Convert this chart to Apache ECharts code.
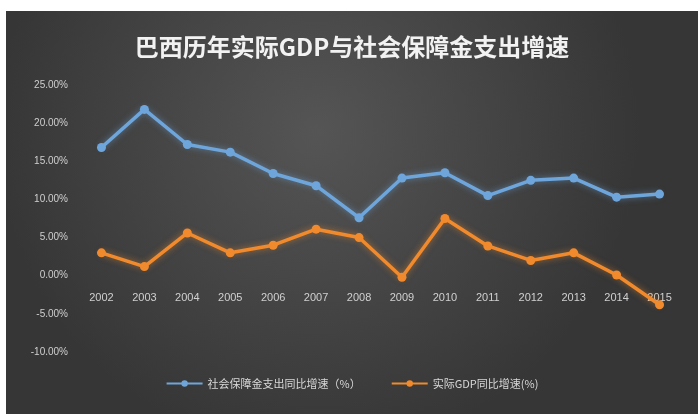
<!DOCTYPE html>
<html><head><meta charset="utf-8">
<script src="https://cdn.jsdelivr.net/npm/echarts@6/dist/echarts.min.js"></script>
<style>
html,body{margin:0;padding:0;background:#fff;width:698px;height:414px;overflow:hidden}
#c{position:absolute;left:6px;top:11px;width:692px;height:403px}
</style></head><body>
<div id="c"></div>
<script>
const years = ['2002','2003','2004','2005','2006','2007','2008','2009','2010','2011','2012','2013','2014','2015'];
const socialSecurity = [16.8, 21.8, 17.2, 16.2, 13.4, 11.8, 7.6, 12.8, 13.5, 10.5, 12.5, 12.8, 10.3, 10.7];
const realGDP = [3.0, 1.2, 5.6, 3.0, 4.0, 6.1, 5.0, -0.2, 7.5, 3.9, 2.0, 3.0, 0.1, -3.8];
const seriesNames = ['社会保障金支出同比增速（%）', '实际GDP同比增速(%)'];
const titleText = '巴西历年实际GDP与社会保障金支出增速';

const chart = echarts.init(document.getElementById('c'));
const blue = '#6ea6dc', orange = '#f08a2c';
chart.setOption({
  backgroundColor: {
    type: 'radial', x: 0.45, y: 0.3, r: 0.8,
    colorStops: [{offset: 0, color: '#555555'}, {offset: 1, color: '#363636'}]
  },
  title: {
    text: titleText, left: 'center', top: 19,
    textStyle: {color: '#f2f2f2', fontSize: 24, fontWeight: 'bold', fontFamily: 'Noto Sans CJK SC'}
  },
  legend: {
    bottom: 20, left: 'center', itemGap: 30, itemWidth: 36, itemHeight: 8,
    textStyle: {color: '#d8d8d8', fontSize: 11, fontFamily: 'Noto Sans CJK SC'},
    data: seriesNames
  },
  grid: {left: 74, right: 17, top: 74, bottom: 62},
  xAxis: {
    type: 'category', data: years, boundaryGap: true,
    offset: -76,
    axisLine: {show: false, onZero: false},
    axisTick: {show: false},
    axisLabel: {color: '#d0d0d0', fontSize: 11, margin: 16, fontFamily: 'Liberation Sans'}
  },
  yAxis: {
    type: 'value', min: -10, max: 25, interval: 5,
    splitLine: {show: false},
    axisLine: {show: false}, axisTick: {show: false},
    axisLabel: {color: '#cfcfcf', fontSize: 10, margin: 12, fontFamily: 'Liberation Sans',
      formatter: v => v.toFixed(2) + '%'}
  },
  series: [
    {name: seriesNames[0], type: 'line', data: socialSecurity, symbol: 'circle', symbolSize: 9,
     itemStyle: {color: blue}, lineStyle: {width: 3.5, color: blue, shadowBlur: 6, shadowColor: 'rgba(110,166,220,0.6)'}},
    {name: seriesNames[1], type: 'line', data: realGDP, symbol: 'circle', symbolSize: 9,
     itemStyle: {color: orange}, lineStyle: {width: 3.5, color: orange, shadowBlur: 6, shadowColor: 'rgba(240,138,44,0.6)'}}
  ]
});
</script>
</body></html>
